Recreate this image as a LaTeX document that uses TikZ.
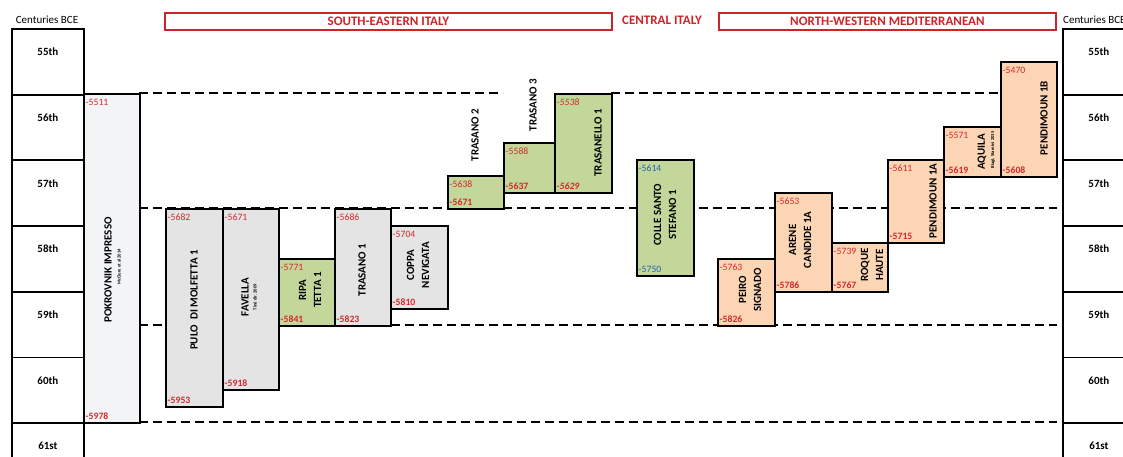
\documentclass[tikz,border=0pt]{standalone}
\usepackage{fontspec}
\setmainfont{Carlito}
\definecolor{hdred}{RGB}{205,35,42}
\definecolor{labred}{RGB}{212,40,45}
\definecolor{labblue}{RGB}{35,100,175}
\definecolor{grayfill}{RGB}{228,228,228}
\definecolor{pokfill}{RGB}{243,244,246}
\definecolor{greenfill}{RGB}{196,215,155}
\definecolor{peachfill}{RGB}{252,213,181}
\begin{document}
\begin{tikzpicture}[x=1pt,y=-1pt,
  sitebox/.style={draw=black, line width=2.2pt, rectangle, inner sep=0pt, anchor=north west},
  cell/.style={draw=black, line width=1.8pt, rectangle, inner sep=0pt, anchor=north west, minimum width=72pt, minimum height=65.7pt},
  celltxt/.style={font=\fontsize{11}{13}\selectfont\bfseries, inner sep=0pt},
  sitename/.style={rotate=90, align=center, font=\fontsize{11}{15}\selectfont\bfseries, inner sep=0pt},
  subref/.style={rotate=90, font=\fontsize{4.6}{5}\selectfont\bfseries, inner sep=0pt},
  lbtop/.style={anchor=west, text=labred, font=\fontsize{9.7}{10}\selectfont, inner sep=0pt},
  lbbot/.style={anchor=west, text=labred, font=\fontsize{9.7}{10}\selectfont\bfseries, inner sep=0pt},
  guide/.style={dash pattern=on 9pt off 5pt, line width=2.2pt},
  regbox/.style={draw=hdred, line width=1.8pt, rectangle, inner sep=0pt, anchor=north west, minimum height=17pt},
  hdr/.style={text=hdred, font=\fontsize{13}{15}\selectfont\bfseries, inner sep=0pt}
]
\useasboundingbox (0,0) rectangle (1123,456);

% century columns
\node[font=\fontsize{11}{13}\selectfont, inner sep=0pt] (cenL) at (47,20) {Centuries BCE};
\node[font=\fontsize{11}{13}\selectfont, inner sep=0pt, anchor=west] (cenR) at (1063,20) {Centuries BCE};
\foreach \lab [count=\i from 0] in {55th,56th,57th,58th,59th,60th,61st} {
  \node[cell] (L\i) at (11,{28+65.7*\i}) {};
  \node[celltxt] (Lt\i) at ([shift={(0,24)}]L\i.north) {\lab};
  \node[cell] (R\i) at (1062,{28+65.7*\i}) {};
  \node[celltxt] (Rt\i) at ([shift={(0,24)}]R\i.north) {\lab};
}

% region headers
\node[regbox, minimum width=447pt] (se) at (164,12) {};
\node[hdr] (set) at (se.center) {SOUTH-EASTERN ITALY};
\node[hdr] (ci) at (662,20) {CENTRAL ITALY};
\node[regbox, minimum width=337pt] (nw) at (718,12) {};
\node[hdr] (nwt) at (nw.center) {NORTH-WESTERN MEDITERRANEAN};

% guide lines
\coordinate (d1a) at (139,93); \coordinate (d1b) at (503,93);
\coordinate (d1c) at (611,93); \coordinate (d1d) at (998,93);
\coordinate (d2a) at (139,208); \coordinate (d2b) at (1057,208);
\coordinate (d3a) at (139,325); \coordinate (d3b) at (1057,325);
\coordinate (d4a) at (139,422); \coordinate (d4b) at (1057,422);
\draw[guide] (d1a) -- (d1b);
\draw[guide] (d1c) -- (d1d);
\draw[guide] (d2a) -- (d2b);
\draw[guide] (d3a) -- (d3b);
\draw[guide] (d4a) -- (d4b);

% Pokrovnik
\node[sitebox, fill=pokfill, minimum width=56pt, minimum height=329pt] (pok) at (83,93) {};
\node[lbtop] (pokt) at ([shift={(2.5,9)}]pok.north west) {-5511};
\node[lbbot] (pokb) at ([shift={(2.5,-8)}]pok.south west) {-5978};
\node[sitename] (pokn) at (108,270) {POKROVNIK IMPRESSO};
\node[subref] (pokr) at (119,267) {McClure et al 2014};

% South-eastern Italy
\node[sitebox, fill=grayfill, minimum width=57pt, minimum height=198pt] (pulo) at (165,208) {};
\node[lbtop] (pulot) at ([shift={(2.5,9)}]pulo.north west) {-5682};
\node[lbbot] (pulob) at ([shift={(2.5,-8)}]pulo.south west) {-5953};
\node[sitename] (pulon) at (194,300) {PULO\enspace DI MOLFETTA 1};

\node[sitebox, fill=grayfill, minimum width=56pt, minimum height=181pt] (fav) at (222,208) {};
\node[lbtop] (favt) at ([shift={(2.5,9)}]fav.north west) {-5671};
\node[lbbot] (favb) at ([shift={(2.5,-8)}]fav.south west) {-5918};
\node[sitename] (favn) at (245,297) {FAVELLA};
\node[subref] (favr) at (255,297) {Tiné dir. 2009};

\node[sitebox, fill=greenfill, minimum width=56pt, minimum height=67pt] (ripa) at (278,258) {};
\node[lbtop] (ripat) at ([shift={(2.5,9)}]ripa.north west) {-5771};
\node[lbbot] (ripab) at ([shift={(2.5,-8)}]ripa.south west) {-5841};
\node[sitename] (ripan) at (310,290) {RIPA\\TETTA 1};

\node[sitebox, fill=grayfill, minimum width=56pt, minimum height=117pt] (tra1) at (334,208) {};
\node[lbtop] (tra1t) at ([shift={(2.5,9)}]tra1.north west) {-5686};
\node[lbbot] (tra1b) at ([shift={(2.5,-8)}]tra1.south west) {-5823};
\node[sitename] (tra1n) at (362,270) {TRASANO 1};

\node[sitebox, fill=grayfill, minimum width=57pt, minimum height=83pt] (cop) at (390,225) {};
\node[lbtop] (copt) at ([shift={(2.5,9)}]cop.north west) {-5704};
\node[lbbot] (copb) at ([shift={(2.5,-8)}]cop.south west) {-5810};
\node[sitename] (copn) at (418,265) {COPPA\\NEVIGATA};

\node[sitebox, fill=greenfill, minimum width=56pt, minimum height=33pt] (tra2) at (447,175) {};
\node[lbtop] (tra2t) at ([shift={(2.5,9)}]tra2.north west) {-5638};
\node[lbbot] (tra2b) at ([shift={(2.5,-8)}]tra2.south west) {-5671};
\node[sitename] (tra2n) at (475,135) {TRASANO 2};

\node[sitebox, fill=greenfill, minimum width=51pt, minimum height=50pt] (tra3) at (503,142) {};
\node[lbtop] (tra3t) at ([shift={(2.5,9)}]tra3.north west) {-5588};
\node[lbbot] (tra3b) at ([shift={(2.5,-8)}]tra3.south west) {-5637};
\node[sitename] (tra3n) at (533,105) {TRASANO 3};

\node[sitebox, fill=greenfill, minimum width=57pt, minimum height=99pt] (trl) at (554,93) {};
\node[lbtop, font=\fontsize{9.7}{10}\selectfont\itshape] (trlt) at ([shift={(2.5,9)}]trl.north west) {-5538};
\node[lbbot, font=\fontsize{9.7}{10}\selectfont\bfseries\itshape] (trlb) at ([shift={(2.5,-8)}]trl.south west) {-5629};
\node[sitename] (trln) at (598,143) {TRASANELLO 1};

% Central Italy
\node[sitebox, fill=greenfill, minimum width=57pt, minimum height=116pt] (col) at (636,159) {};
\node[lbtop, text=labblue] (colt) at ([shift={(2.5,9)}]col.north west) {-5614};
\node[lbtop, text=labblue] (colb) at ([shift={(2.5,-8)}]col.south west) {-5750};
\node[sitename] (coln) at (665,215) {COLLE SANTO\\STEFANO 1};

% North-western Mediterranean
\node[sitebox, fill=peachfill, minimum width=57pt, minimum height=67pt] (pei) at (717,258) {};
\node[lbtop] (peit) at ([shift={(2.5,9)}]pei.north west) {-5763};
\node[lbbot] (peib) at ([shift={(2.5,-8)}]pei.south west) {-5826};
\node[sitename] (pein) at (750,290) {PEIRO\\SIGNADO};

\node[sitebox, fill=peachfill, minimum width=57pt, minimum height=99pt] (are) at (774,192) {};
\node[lbtop] (aret) at ([shift={(2.5,9)}]are.north west) {-5653};
\node[lbbot] (areb) at ([shift={(2.5,-8)}]are.south west) {-5786};
\node[sitename] (aren) at (800,240) {ARENE\\CANDIDE 1A};

\node[sitebox, fill=peachfill, minimum width=56pt, minimum height=49pt] (roq) at (831,242) {};
\node[lbtop] (roqt) at ([shift={(2.5,9)}]roq.north west) {-5739};
\node[lbbot] (roqb) at ([shift={(2.5,-8)}]roq.south west) {-5767};
\node[sitename] (roqn) at (872,265) {ROQUE\\HAUTE};

\node[sitebox, fill=peachfill, minimum width=56pt, minimum height=83pt] (pe1a) at (887,159) {};
\node[lbtop] (pe1at) at ([shift={(2.5,9)}]pe1a.north west) {-5611};
\node[lbbot] (pe1ab) at ([shift={(2.5,-8)}]pe1a.south west) {-5715};
\node[sitename] (pe1an) at (933,201) {PENDIMOUN 1A};

\node[sitebox, fill=peachfill, minimum width=57pt, minimum height=50pt] (aq) at (943,126) {};
\node[lbtop] (aqt) at ([shift={(2.5,9)}]aq.north west) {-5571};
\node[lbbot] (aqb) at ([shift={(2.5,-8)}]aq.south west) {-5619};
\node[sitename] (aqn) at (982,152) {AQUILA};
\node[subref] (aqr) at (993,150) {Biagi, Starnini 2015};

\node[sitebox, fill=peachfill, minimum width=56pt, minimum height=115pt] (pe1b) at (1000,61) {};
\node[lbtop] (pe1bt) at ([shift={(2.5,9)}]pe1b.north west) {-5470};
\node[lbbot] (pe1bb) at ([shift={(2.5,-8)}]pe1b.south west) {-5608};
\node[sitename] (pe1bn) at (1044,118) {PENDIMOUN 1B};
\end{tikzpicture}
\end{document}
